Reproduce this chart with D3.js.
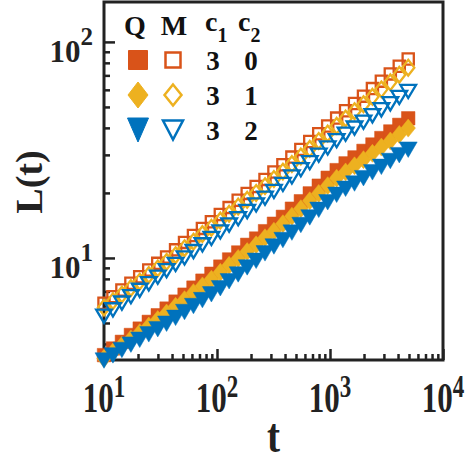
<!DOCTYPE html>
<html>
<head>
<meta charset="utf-8">
<script src="https://cdn.jsdelivr.net/npm/d3@7"></script>
<style>
  body { margin: 0; background: #fff; }
  text { font-family: "Liberation Serif", "Times New Roman", serif; font-weight: bold; }
</style>
</head>
<body>
<script>
// time points (log spaced)
const tValues = [10, 12, 14.4, 17.3, 20.7, 24.9, 29.9, 35.8, 43, 51.6, 61.9, 74.3, 89.2, 107, 128, 154,
  185, 222, 266, 319, 383, 460, 552, 662, 795, 954, 1145, 1374, 1648, 1978, 2374, 2848, 3418, 4102, 4922];

// Q (filled) series, c1 = 3
const qC0 = [3.55, 3.81, 4.09, 4.40, 4.71, 5.06, 5.43, 5.83, 6.28, 6.76, 7.29, 7.85, 8.45, 9.12, 9.84, 10.6,
  11.5, 12.3, 13.3, 14.4, 15.5, 16.9, 18.3, 19.9, 21.6, 23.5, 25.5, 27.4, 29.2, 31.3, 33.5, 35.9, 38.5, 41.3, 44.3];
const qC1 = [3.43, 3.67, 3.94, 4.22, 4.51, 4.84, 5.19, 5.56, 5.97, 6.41, 6.91, 7.42, 7.97, 8.58, 9.24, 9.95,
  10.7, 11.5, 12.4, 13.3, 14.4, 15.6, 16.9, 18.4, 19.9, 21.6, 23.4, 25.0, 26.7, 28.5, 30.5, 32.6, 34.8, 37.3, 39.9];
const qC2 = [3.35, 3.54, 3.75, 3.97, 4.18, 4.43, 4.68, 4.96, 5.28, 5.62, 5.99, 6.38, 6.79, 7.24, 7.80, 8.39,
  9.04, 9.70, 10.5, 11.3, 12.1, 13.1, 14.2, 15.4, 16.7, 18.1, 19.6, 20.9, 22.1, 23.4, 24.9, 26.4, 28.1, 29.9, 31.7];

// M (open) series, c1 = 3
const mC0 = [6.17, 6.62, 7.11, 7.64, 8.18, 8.79, 9.44, 10.1, 10.9, 11.8, 12.7, 13.7, 14.7, 15.9, 17.1, 18.5,
  19.9, 21.4, 23.1, 25.0, 27.0, 29.3, 31.8, 34.6, 37.6, 40.8, 44.4, 48.0, 51.9, 56.1, 60.8, 65.8, 71.1, 77.1, 83.4];
const mC1 = [5.89, 6.31, 6.77, 7.26, 7.77, 8.34, 8.95, 9.59, 10.3, 11.1, 11.9, 12.9, 13.8, 14.9, 16.0, 17.3,
  18.6, 20.0, 21.5, 23.2, 25.1, 27.2, 29.5, 32.0, 34.8, 37.7, 40.9, 44.2, 47.8, 51.5, 55.7, 60.3, 65.0, 70.5, 76.0];
const mC2 = [5.37, 5.75, 6.18, 6.62, 7.08, 7.59, 8.15, 8.73, 9.33, 10.0, 10.7, 11.5, 12.3, 13.2, 14.2, 15.2,
  16.4, 17.6, 18.9, 20.3, 21.9, 23.7, 25.6, 27.6, 29.9, 32.3, 34.9, 37.4, 39.9, 42.5, 45.5, 48.5, 51.7, 55.3, 59.0];

// legend table
const legendHeaders = ["Q", "M"];
const c1Labels = ["3", "3", "3"];
const c2Labels = ["0", "1", "2"];

const xMajor = [1e1, 1e2, 1e3, 1e4];
const yMajor = [1e1, 1e2];

const colors = ["#D95319", "#EDB120", "#0072BD"];
const shapes = ["square", "diamond", "triangle"];

const W = 469, H = 461;
const plot = { left: 104, right: 443, top: 2, bottom: 360 };

const svg = d3.select("body").append("svg")
  .attr("width", W).attr("height", H);

const x = d3.scaleLog().domain([10, 1e4]).range([plot.left, plot.right]);
const y = d3.scaleLog().domain([3.37, 153]).range([plot.bottom, plot.top]);

// minor ticks
function minorTicks(scale) {
  const [lo, hi] = scale.domain();
  const out = [];
  for (let e = Math.floor(Math.log10(lo)); e <= Math.ceil(Math.log10(hi)); e++) {
    for (let m = 2; m <= 9; m++) {
      const v = m * Math.pow(10, e);
      if (v >= lo && v <= hi) out.push(v);
    }
  }
  return out;
}

function styleAxis(g) {
  g.select(".domain").remove();
  g.selectAll(".tick line").attr("stroke", "#222").attr("stroke-width", 2.5);
  g.selectAll(".tick text").remove();
}

svg.append("g").attr("transform", `translate(${plot.left},0)`)
  .call(d3.axisLeft(y).tickValues(yMajor).tickSize(-11)).call(styleAxis);
svg.append("g").attr("transform", `translate(${plot.left},0)`)
  .call(d3.axisLeft(y).tickValues(minorTicks(y)).tickSize(-6)).call(styleAxis);
svg.append("g").attr("transform", `translate(0,${plot.bottom})`)
  .call(d3.axisBottom(x).tickValues(xMajor).tickSize(-11)).call(styleAxis);
svg.append("g").attr("transform", `translate(0,${plot.bottom})`)
  .call(d3.axisBottom(x).tickValues(minorTicks(x)).tickSize(-6)).call(styleAxis);

// frame
svg.append("rect")
  .attr("x", plot.left).attr("y", plot.top)
  .attr("width", plot.right - plot.left).attr("height", plot.bottom - plot.top)
  .attr("fill", "none").attr("stroke", "#222").attr("stroke-width", 3);

// tick labels 10^n
yMajor.forEach(v => {
  const t = svg.append("text")
    .attr("x", 93).attr("y", y(v) + 20)
    .attr("text-anchor", "end").attr("fill", "#222");
  t.append("tspan").text("10").attr("font-size", 31);
  t.append("tspan").text(Math.round(Math.log10(v))).attr("font-size", 25).attr("dy", -17);
});
// x labels are drawn a bit taller, as in the original figure
xMajor.forEach(v => {
  const t = svg.append("text")
    .attr("transform", `translate(${x(v)},412) scale(1,1.36)`)
    .attr("text-anchor", "middle").attr("fill", "#222");
  t.append("tspan").text("10").attr("font-size", 31);
  t.append("tspan").text(Math.round(Math.log10(v))).attr("font-size", 23).attr("dy", -11);
});

// axis titles
svg.append("text")
  .attr("transform", "translate(42,182) rotate(-90)")
  .attr("text-anchor", "middle").attr("font-size", 38).attr("fill", "#222")
  .text("L(t)");
svg.append("text")
  .attr("transform", `translate(${(plot.left + plot.right) / 2},452) scale(1,1.22)`)
  .attr("text-anchor", "middle").attr("font-size", 39).attr("fill", "#222")
  .text("t");

// marker shapes centered at 0,0 (w, h = box)
function markerPath(shape, w, h) {
  if (shape === "square") {
    return `M${-w / 2},${-h / 2}H${w / 2}V${h / 2}H${-w / 2}Z`;
  }
  if (shape === "diamond") {
    return `M0,${-h / 2}L${w / 2},0L0,${h / 2}L${-w / 2},0Z`;
  }
  return `M${-w / 2},${-h / 2}H${w / 2}L0,${h / 2}Z`;
}
const dataSize = { square: [13.5, 13.5], diamond: [14.5, 18], triangle: [18, 15.5] };
const legendSize = { square: [19, 19], diamond: [20, 26], triangle: [21, 24] };
const legendOpenSize = { square: [15, 15], diamond: [17, 21], triangle: [20, 19] };

const qSeries = [qC0, qC1, qC2];
const mSeries = [mC0, mC1, mC2];

function drawSeries(values, i, filled) {
  const pts = tValues.map((t, k) => [t, values[k]]);
  const [w, h] = dataSize[shapes[i]];
  svg.append("g").selectAll("path")
    .data(pts).join("path")
    .attr("transform", d => `translate(${x(d[0])},${y(d[1])})`)
    .attr("d", filled ? markerPath(shapes[i], w, h) : markerPath(shapes[i], w - 2.3, h - 2.3))
    .attr("fill", filled ? colors[i] : "none")
    .attr("stroke", colors[i])
    .attr("stroke-width", filled ? 0.5 : 2.3);
}
qSeries.forEach((s, i) => drawSeries(s, i, true));
mSeries.forEach((s, i) => drawSeries(s, i, false));

// legend table
const lg = svg.append("g");
const colQ = 138, colM = 173, colC1 = 205, colC2 = 238;
lg.append("text").attr("x", colQ - 3).attr("y", 35).attr("text-anchor", "middle")
  .attr("font-size", 28).attr("fill", "#111").text(legendHeaders[0]);
lg.append("text").attr("x", colM + 1).attr("y", 35).attr("text-anchor", "middle")
  .attr("font-size", 28).attr("fill", "#111").text(legendHeaders[1]);
[[colC1, "1"], [colC2, "2"]].forEach(([cx, sub]) => {
  const t = lg.append("text").attr("x", cx).attr("y", 31).attr("fill", "#111");
  t.append("tspan").text("c").attr("font-size", 28);
  t.append("tspan").text(sub).attr("font-size", 20).attr("dy", 11);
});
const rowY = [60, 95, 130];
rowY.forEach((ry, i) => {
  const [fw, fh] = legendSize[shapes[i]];
  const [ow, oh] = legendOpenSize[shapes[i]];
  lg.append("path").attr("transform", `translate(${colQ},${ry})`)
    .attr("d", markerPath(shapes[i], fw, fh)).attr("fill", colors[i]).attr("stroke", colors[i]);
  lg.append("path").attr("transform", `translate(${colM},${ry})`)
    .attr("d", markerPath(shapes[i], ow, oh)).attr("fill", "none").attr("stroke", colors[i]).attr("stroke-width", 2.5);
  lg.append("text").attr("x", 213).attr("y", ry + 10).attr("text-anchor", "middle")
    .attr("font-size", 27).attr("fill", "#111").text(c1Labels[i]);
  lg.append("text").attr("x", 251).attr("y", ry + 10).attr("text-anchor", "middle")
    .attr("font-size", 27).attr("fill", "#111").text(c2Labels[i]);
});
</script>
</body>
</html>
